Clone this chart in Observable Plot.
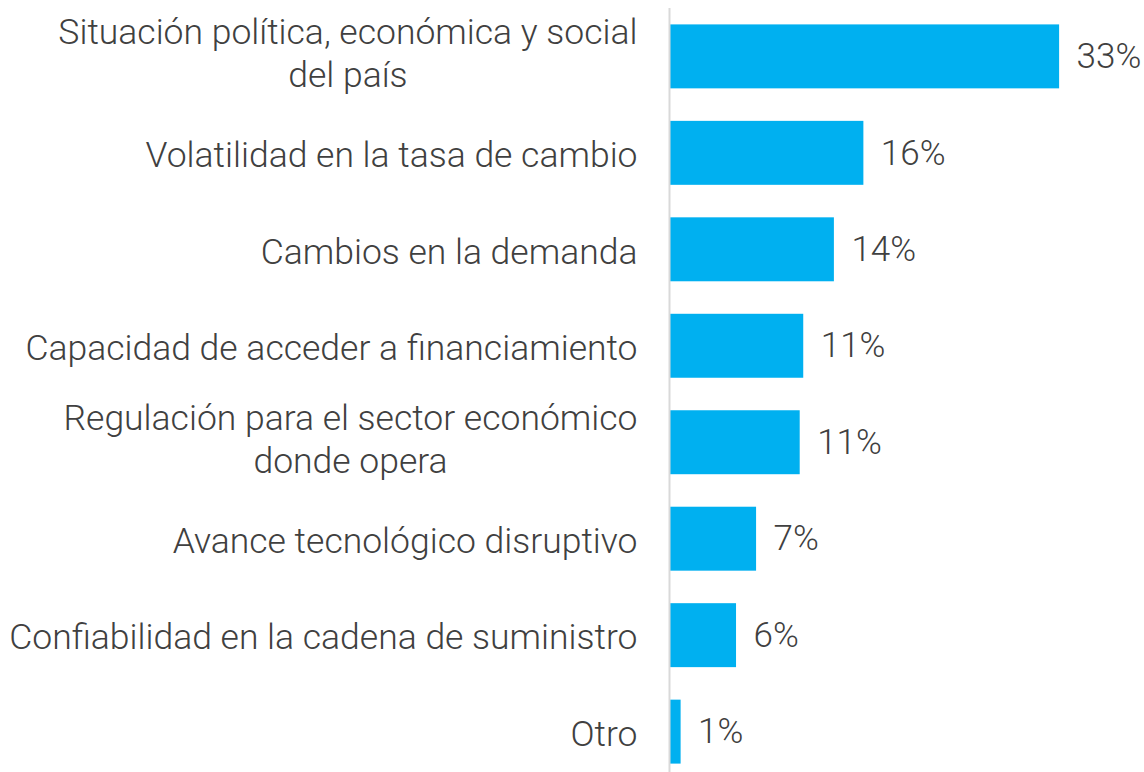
<!DOCTYPE html>
<html><head><meta charset="utf-8">
<script src="https://cdn.jsdelivr.net/npm/d3@7"></script>
<script src="https://cdn.jsdelivr.net/npm/@observablehq/plot@0.6"></script>
<style>
html,body{margin:0;padding:0;background:#fff;overflow:hidden}
</style></head><body><div id="chart"></div>
<script>
const categories = [
  "Situación política, económica y social del país",
  "Volatilidad en la tasa de cambio",
  "Cambios en la demanda",
  "Capacidad de acceder a financiamiento",
  "Regulación para el sector económico donde opera",
  "Avance tecnológico disruptivo",
  "Confiabilidad en la cadena de suministro",
  "Otro"
];
const categoryLines = [
  "Situación política, económica y social\ndel país",
  "Volatilidad en la tasa de cambio",
  "Cambios en la demanda",
  "Capacidad de acceder a financiamiento",
  "Regulación para el sector económico\ndonde opera",
  "Avance tecnológico disruptivo",
  "Confiabilidad en la cadena de suministro",
  "Otro"
];
const values = [33, 16.4, 13.9, 11.3, 11.0, 7.3, 5.6, 0.9];
const valueLabels = ["33%", "16%", "14%", "11%", "11%", "7%", "6%", "1%"];

const data = categories.map((c, i) => ({category: c, value: values[i], label: valueLabels[i]}));
const lineOf = new Map(categories.map((c, i) => [c, categoryLines[i]]));

const chart = Plot.plot({
  width: 1144, height: 772,
  marginLeft: 670, marginRight: 0, marginTop: 8, marginBottom: 0,
  style: {fontFamily: "Roboto", fontWeight: 300, fontSize: "35.5px", color: "#404040", background: "#fff"},
  x: {domain: [0, 40.2], axis: null},
  y: {domain: categories, range: [8, 780], paddingInner: 0.337, paddingOuter: 0.17, round: false},
  marks: [
    Plot.barX(data, {x: "value", y: "category", fill: "#00B0F0"}),
    Plot.ruleX([0], {stroke: "#d9d9d9", strokeWidth: 2, dx: -1}),
    Plot.text(data, {x: "value", y: "category", text: "label", textAnchor: "start", dx: 17, fontSize: 35, fill: "#404040", fontWeight: 300}),
    Plot.axisY({tickSize: 0, tickPadding: 33, tickFormat: d => lineOf.get(d), fontSize: 35.5, lineHeight: 1.21, fill: "#404040", label: null})
  ]
});
document.getElementById("chart").appendChild(chart);

// center multi-line category labels as a block (right edge aligned)
d3.select(chart).selectAll('g[aria-label="y-axis tick label"] text').each(function() {
  const tspans = this.querySelectorAll("tspan");
  if (tspans.length > 1) {
    let maxW = 0;
    tspans.forEach(t => { maxW = Math.max(maxW, t.getComputedTextLength()); });
    this.setAttribute("text-anchor", "middle");
    const tr = this.getAttribute("transform") || "";
    this.setAttribute("transform", tr + ` translate(${-maxW / 2},-5)`);
  }
});
</script></body></html>
